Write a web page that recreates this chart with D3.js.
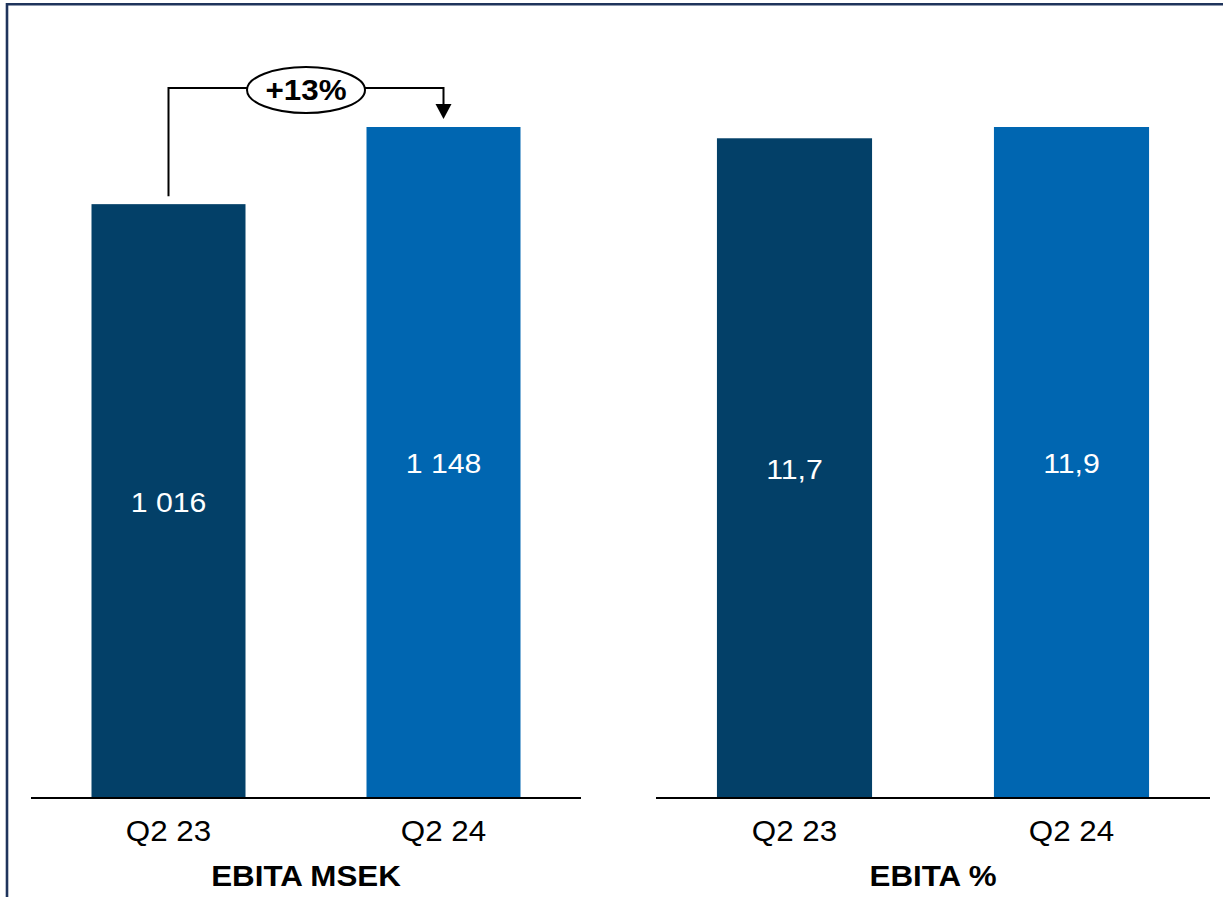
<!DOCTYPE html>
<html>
<head>
<meta charset="utf-8">
<script src="https://cdn.jsdelivr.net/npm/d3@7"></script>
<style>
  html, body { margin: 0; padding: 0; background: #ffffff; }
  svg { display: block; }
  text { font-family: Arial, "Liberation Sans", sans-serif; }
</style>
</head>
<body>
<svg id="chart" width="1223" height="897"></svg>
<script>
// ---- data ----
const categories = ["Q2 23", "Q2 24"];
const ebitaMsek = [1016, 1148];
const ebitaMsekLabels = ["1 016", "1 148"];
const ebitaPct = [11.7, 11.9];
const ebitaPctLabels = ["11,7", "11,9"];
const panelTitles = ["EBITA MSEK", "EBITA %"];
const growthLabel = "+13%";
const barColors = ["#034068", "#0066b1"];

// ---- drawing ----
const svg = d3.select("#chart");
const W = 1223, H = 897;
const baseY = 798, topY = 127;
const stretch = 1.08;

// frame (top and left edges)
svg.append("line").attr("x1", 7).attr("x2", W).attr("y1", 4.2).attr("y2", 4.2)
  .attr("stroke", "#1f345c").attr("stroke-width", 2.6);
svg.append("line").attr("x1", 7).attr("x2", 7).attr("y1", 3).attr("y2", H)
  .attr("stroke", "#1f345c").attr("stroke-width", 2.6);

function stretchedText(g, x, y, str, opts) {
  return g.append("text")
    .attr("transform", `translate(${x},${y}) scale(${stretch},1)`)
    .attr("text-anchor", "middle")
    .attr("dominant-baseline", "central")
    .attr("font-size", opts.size)
    .attr("font-weight", opts.weight || "normal")
    .attr("fill", opts.fill || "#000")
    .text(str);
}

function panel(x0, x1, values, labels, title) {
  const g = svg.append("g");
  const x = d3.scaleBand().domain(categories).range([x0, x1])
    .paddingInner(0.44).paddingOuter(0.22);
  const y = d3.scaleLinear().domain([0, d3.max(values)]).range([baseY, topY]);

  g.selectAll("rect.bar").data(values).join("rect")
    .attr("class", "bar")
    .attr("x", (d, i) => x(categories[i]))
    .attr("width", x.bandwidth())
    .attr("y", d => y(d))
    .attr("height", d => baseY - y(d))
    .attr("fill", (d, i) => barColors[i]);

  values.forEach((d, i) => {
    stretchedText(g, x(categories[i]) + x.bandwidth() / 2, (y(d) + baseY) / 2 + 1,
      labels[i], { size: 28, fill: "#ffffff" });
  });

  // baseline axis
  const axis = d3.axisBottom(x).tickSize(0).tickFormat(() => "");
  const ag = g.append("g").attr("transform", `translate(0,${baseY})`).call(axis);
  ag.select(".domain").attr("stroke", "#000").attr("stroke-width", 2.2)
    .attr("d", `M${x0},0H${x1}`);

  categories.forEach(c => {
    stretchedText(g, x(c) + x.bandwidth() / 2, 831, c, { size: 29 });
  });
  stretchedText(g, (x0 + x1) / 2, 876, title, { size: 29, weight: "bold" });
  return { x, y, g };
}

const left = panel(31, 581, ebitaMsek, ebitaMsekLabels, panelTitles[0]);
panel(656, 1210, ebitaPct, ebitaPctLabels, panelTitles[1]);

// growth annotation
const cx0 = left.x(categories[0]) + left.x.bandwidth() / 2;
const cx1 = left.x(categories[1]) + left.x.bandwidth() / 2;
const lineY = 88;
const a = svg.append("g");
a.append("path")
  .attr("d", `M${cx0},${left.y(ebitaMsek[0]) - 8}V${lineY}H${cx1}V${left.y(ebitaMsek[1]) - 22}`)
  .attr("fill", "none").attr("stroke", "#000").attr("stroke-width", 2);
const tipY = left.y(ebitaMsek[1]) - 8;
a.append("path")
  .attr("d", `M${cx1 - 8},${tipY - 15}L${cx1 + 8},${tipY - 15}L${cx1},${tipY}Z`)
  .attr("fill", "#000");
const ex = (cx0 + cx1) / 2;
a.append("ellipse").attr("cx", ex).attr("cy", lineY + 2).attr("rx", 59).attr("ry", 23)
  .attr("fill", "#fff").attr("stroke", "#000").attr("stroke-width", 2);
stretchedText(a, ex, lineY + 2, growthLabel, { size: 29, weight: "bold" });
</script>
</body>
</html>
